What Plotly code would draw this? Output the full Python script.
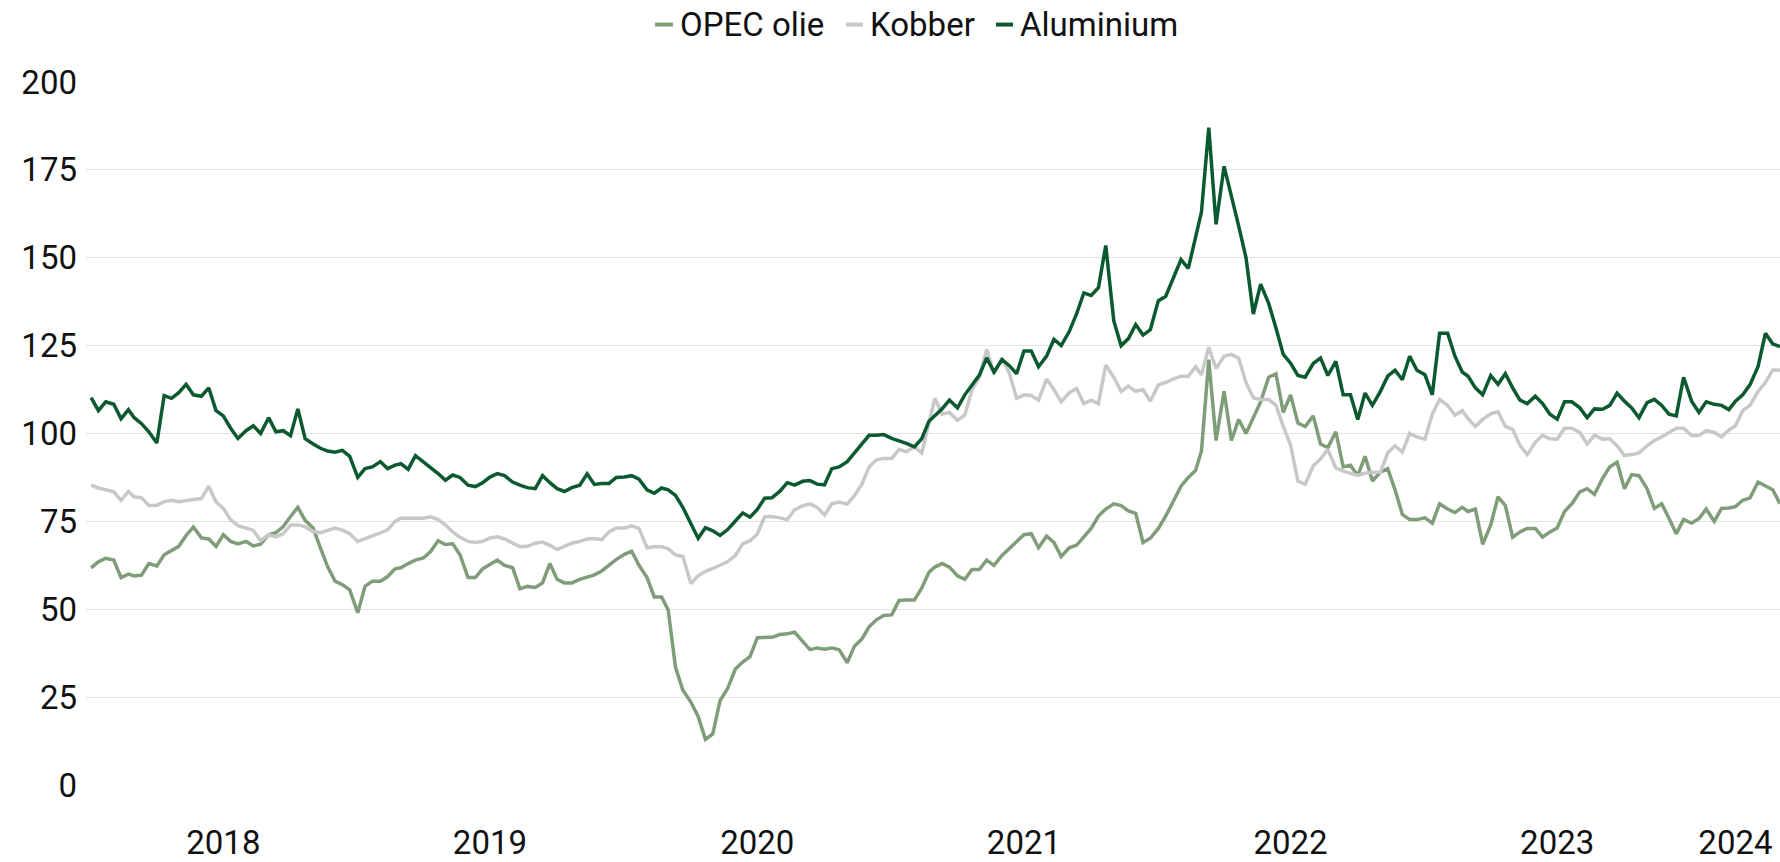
import plotly.graph_objects as go

# 10-day date grid (1st, 11th, 21st of each month), Jan 2018 .. 1 May 2024
dates = [f"{y}-{m:02d}-{d:02d}" for y in range(2018, 2025) for m in range(1, 13) for d in (1, 11, 21)][:229]

opec = [
    # 2018
    61.8, 63.5, 64.5, 64, 59, 60, 59.5, 59.7, 63, 62.3, 65.5, 66.8, 67.9, 71, 73.4, 70.3, 70, 67.9,
    71.2, 69.3, 68.6, 69.3, 68, 68.5, 71.2, 71.8, 73.5, 76.4, 79, 75.3, 73.1, 67.4, 62, 58, 57, 55.5,
    # 2019
    49, 56.5, 58, 58, 59.3, 61.5, 61.8, 63, 64, 64.6, 66.5, 69.5, 68.4, 68.6, 65.5, 59, 59, 61.5,
    62.7, 64, 62.5, 61.8, 55.8, 56.5, 56.2, 57.5, 63, 58.5, 57.5, 57.5, 58.5, 59.2, 59.8, 60.9, 62.5, 64.2,
    # 2020
    65.6, 66.5, 62.5, 59, 53.5, 53.5, 49.8, 33.5, 27, 23.6, 19.5, 13, 14.5, 24, 27.3, 33, 35, 36.5,
    41.9, 41.9, 42, 42.8, 43, 43.5, 41, 38.5, 39, 38.6, 39, 38.5, 34.8, 39.5, 41.5, 45, 47, 48.2,
    # 2021
    48.4, 52.5, 52.6, 52.6, 56, 60.5, 62, 63, 62, 59.5, 58.5, 61.3, 61.3, 64, 62.5, 65.3, 67.3, 69.3,
    71.2, 71.5, 67.5, 70.8, 69, 65, 67.5, 68.2, 70.5, 73, 76.5, 78.5, 80, 79.5, 78, 77.3, 69, 70.2,
    # 2022
    73, 76.5, 80.5, 85, 87.5, 89.5, 95, 121, 98, 112, 98, 104, 100, 104.5, 109, 116, 117, 106,
    111, 103, 102, 105, 97, 96, 100.5, 90.5, 91, 88, 93.5, 86.5, 89, 90, 84, 77, 75.5, 75.5,
    # 2023
    76, 74.5, 80, 78.5, 77.5, 79, 77.8, 78.5, 68.5, 74, 82, 79.5, 70.5, 72, 73, 73, 70.5, 72,
    73.1, 77.8, 80, 83.4, 84.3, 82.7, 87.2, 90.5, 91.8, 84.3, 88.3, 88, 84.3, 78.7, 80, 75.9, 71.5, 75.5,
    # 2024
    74.5, 75.8, 78.5, 75, 78.7, 78.8, 79.2, 81, 81.7, 86.2, 85, 84, 80,
]

kobber = [
    # 2018
    85.3, 84.5, 84, 83.4, 81, 83.5, 82, 81.7, 79.5, 79.6, 80.6, 81, 80.6, 81, 81.2, 81.5, 85, 80.5,
    78.7, 75.5, 73.8, 73.1, 72.5, 69.5, 71.2, 70.6, 71.5, 74, 74, 73.5, 72.1, 71.8, 72.5, 73.1, 72.5, 71.5,
    # 2019
    69.3, 70, 70.9, 71.7, 72.6, 75, 75.9, 75.9, 76, 75.9, 76.3, 75.5, 74, 72, 70.5, 69.3, 69, 69.3,
    70.3, 70.6, 70, 68.8, 67.8, 67.9, 68.8, 69.1, 68.2, 67, 67.9, 68.8, 69.3, 70, 70.1, 69.8, 72, 73.1,
    # 2020
    73.1, 73.7, 73, 67.5, 67.8, 67.8, 67.2, 65.5, 65, 57.3, 59.5, 60.8, 61.6, 62.5, 63.5, 65.3, 68.6, 69.5,
    71.4, 76.3, 76.4, 76, 75.5, 78.3, 79.4, 80, 79, 76.8, 80, 80.5, 79.9, 82.3, 85.5, 90.5, 92.5, 92.9,
    # 2021
    92.9, 95.5, 94.8, 96.2, 94.5, 103, 110, 105.5, 106, 103.8, 105.2, 112.5, 116, 124, 117, 121.5, 117.2, 110,
    111, 110.8, 109.5, 115.5, 112.5, 109, 111.6, 112.8, 108.5, 109.5, 108.5, 119.5, 116, 112, 113.5, 112, 112.5, 109.2,
    # 2022
    113.8, 114.5, 115.5, 116.3, 116.3, 119, 116.7, 124.5, 118.5, 122, 122.5, 121.4, 114.5, 110.2, 109.7, 109.7, 108, 102,
    96.7, 86.5, 85.5, 90.8, 92.7, 95.5, 90.2, 89.3, 88.8, 88.1, 88.7, 89, 89, 94.5, 96.5, 94.7, 100, 99,
    # 2023
    98.4, 105.5, 109.7, 108, 105.2, 106.5, 104.2, 102, 104, 105.6, 106.2, 102, 101.2, 96.6, 94, 97.5, 99.5, 98.5,
    98.4, 101.5, 101.5, 100.3, 97, 99.5, 98.4, 98.5, 96.5, 93.7, 94, 94.5, 96.5, 98, 99, 100.3, 101.5, 101.5,
    # 2024
    99.4, 99.4, 100.8, 100.3, 99, 101, 102.2, 106.5, 108, 112, 114.5, 118, 118.1,
]

aluminium = [
    # 2018
    110.2, 106.5, 109, 108.3, 104.2, 106.8, 104.5, 102.8, 100.5, 97.3, 110.8, 110, 111.6, 114, 111, 110.6, 113, 106.5,
    105, 101.5, 98.6, 100.8, 102.2, 100, 104.5, 100.5, 100.8, 99.4, 107, 98.5, 97, 95.8, 95, 94.7, 95.2, 93.5,
    # 2019
    87.5, 90, 90.5, 92, 90, 91, 91.4, 89.8, 93.7, 91.9, 90.3, 88.6, 86.7, 88.2, 87.5, 85.3, 84.9, 86,
    87.6, 88.6, 88, 86.2, 85.3, 84.6, 84.3, 88, 86, 84.3, 83.5, 84.6, 85.3, 88.5, 85.5, 85.8, 85.8, 87.5,
    # 2020
    87.6, 88, 87, 84, 83, 84.5, 84, 82.4, 79, 74.3, 70.2, 73.2, 72.3, 71, 72.6, 75.1, 77.4, 76.2,
    78.4, 81.6, 81.7, 83.6, 86, 85.3, 86.4, 86.6, 85.6, 85.4, 90, 90.5, 92, 94.5, 97, 99.5, 99.5, 99.7,
    # 2021
    98.6, 98, 97.2, 96.2, 98.5, 103.5, 105, 107, 109.5, 107.3, 111, 113.7, 116.6, 121.5, 117.5, 121, 119.3, 117,
    123.5, 123.5, 119, 122, 126.8, 125, 129, 134, 140, 139.3, 141.5, 153.5, 132, 125, 127, 131, 128, 129.5,
    # 2022
    137.8, 139, 144, 149.5, 147, 156.5, 163, 187, 159.5, 176, 168, 159, 150, 134, 142.5, 137, 130, 122.5,
    120, 116.5, 116, 119.9, 121.5, 116.5, 120.5, 111, 111, 104, 111.5, 108, 112, 116.3, 118, 115.3, 122, 118,
    # 2023
    116.7, 111, 128.5, 128.5, 122, 117.5, 116.3, 113, 111, 116.5, 114, 117, 113, 109.5, 108.5, 110.6, 108.5, 105.5,
    104.1, 109, 109, 107.3, 104.5, 107, 106.9, 108, 111.5, 109.2, 107.3, 104.5, 108.8, 109.7, 108, 105.5, 105, 116,
    # 2024
    109.2, 106, 109, 108.3, 108, 106.8, 109.2, 111, 113.9, 119.1, 128.5, 125.5, 124.7,
]

series_names = ["OPEC olie", "Kobber", "Aluminium"]
series_colors = ["#7f9d79", "#c8c8c8", "#0b5a2f"]

year_labels = ["2018", "2019", "2020", "2021", "2022", "2023", "2024"]
year_tick_dates = ["2018-07-01", "2019-07-01", "2020-07-01", "2021-07-01",
                   "2022-07-01", "2023-07-01", "2024-03-01"]
y_ticks = [0, 25, 50, 75, 100, 125, 150, 175, 200]

W, H = 1780, 862
ML, MR, MT, MB = 86, 0, 82, 70
PW, PH = W - ML - MR, H - MT - MB

fig = go.Figure()
for name, vals, col in zip(series_names, [opec, kobber, aluminium], series_colors):
    fig.add_trace(go.Scatter(x=dates[:len(vals)], y=vals, mode="lines", name=name,
                             line=dict(color=col, width=3.5), showlegend=False))

# manual legend: short thick dash + label (pixel positions -> paper coords)
legend_sym_px = [(655, 673), (846, 863), (996, 1013)]
legend_y_px = 24
ly = (H - MB - legend_y_px) / PH
for name, col, (s0, s1) in zip(series_names, series_colors, legend_sym_px):
    fig.add_shape(type="line", xref="paper", yref="paper",
                  x0=(s0 - ML) / PW, x1=(s1 - ML) / PW, y0=ly, y1=ly,
                  line=dict(color=col, width=4))
    fig.add_annotation(xref="paper", yref="paper", x=(s1 + 5 - ML) / PW, y=ly,
                       text=name, showarrow=False, xanchor="left", yanchor="middle",
                       font=dict(size=33, color="#111111"))

fig.update_layout(
    width=W, height=H,
    margin=dict(l=ML, r=MR, t=MT, b=MB),
    plot_bgcolor="white", paper_bgcolor="white",
    font=dict(family="Roboto", size=33, color="#111111"),
    showlegend=False,
)
fig.update_xaxes(type="date", range=["2017-12-25", "2024-05-01"],
                 tickvals=year_tick_dates, ticktext=year_labels,
                 showgrid=False, showline=False, zeroline=False,
                 ticks="outside", ticklen=28, tickcolor="rgba(0,0,0,0)")
fig.update_yaxes(range=[0, 200], tickvals=y_ticks, showgrid=True, gridcolor="#e2e2e2",
                 gridwidth=1, zeroline=False, showline=False, ticks="",
                 ticklabelstandoff=8)

fig.write_html("out.html", config={"displayModeBar": False},
               post_script="document.body.style.margin='0';document.body.style.overflow='hidden';")
